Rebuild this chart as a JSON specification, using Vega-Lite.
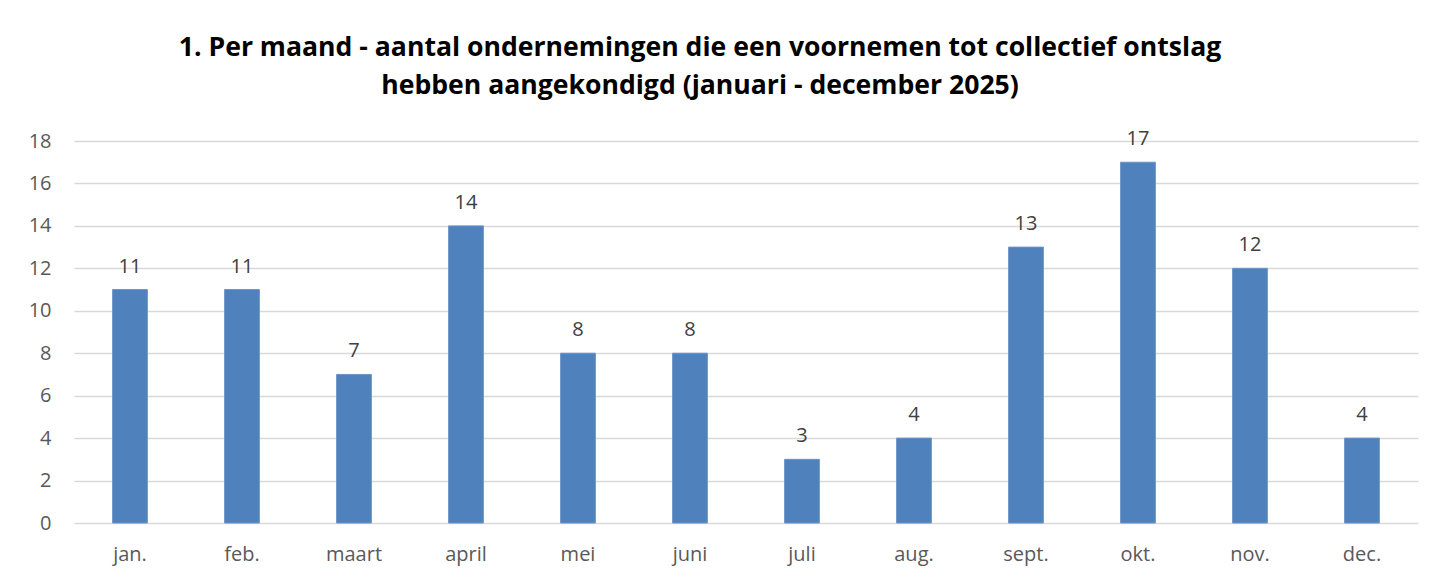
{
  "$schema": "https://vega.github.io/schema/vega-lite/v6.json",
  "width": 1344,
  "height": 382,
  "autosize": {"type": "none"},
  "padding": {"left": 74, "top": 141, "right": 11, "bottom": 56},
  "background": "white",
  "title": {
    "text": ["1. Per maand - aantal ondernemingen die een voornemen tot collectief ontslag", "hebben aangekondigd (januari - december 2025)"],
    "font": "Open Sans",
    "fontSize": 26.6,
    "fontWeight": "bold",
    "color": "#000000",
    "anchor": "middle",
    "dx": -46,
    "offset": 30,
    "lineHeight": 38
  },
  "data": {
    "values": [
      {"maand": "jan.", "aantal": 11},
      {"maand": "feb.", "aantal": 11},
      {"maand": "maart", "aantal": 7},
      {"maand": "april", "aantal": 14},
      {"maand": "mei", "aantal": 8},
      {"maand": "juni", "aantal": 8},
      {"maand": "juli", "aantal": 3},
      {"maand": "aug.", "aantal": 4},
      {"maand": "sept.", "aantal": 13},
      {"maand": "okt.", "aantal": 17},
      {"maand": "nov.", "aantal": 12},
      {"maand": "dec.", "aantal": 4}
    ]
  },
  "encoding": {
    "x": {
      "field": "maand",
      "type": "nominal",
      "sort": null,
      "title": null,
      "scale": {"paddingInner": 0.69, "paddingOuter": 0.345},
      "axis": {
        "labelAngle": 0,
        "labelFont": "Open Sans",
        "labelFontSize": 20,
        "labelColor": "#595959",
        "labelPadding": 21,
        "ticks": false,
        "domain": false,
        "grid": false
      }
    },
    "y": {
      "field": "aantal",
      "type": "quantitative",
      "title": null,
      "scale": {"domain": [0, 18], "nice": false},
      "axis": {
        "values": [0, 2, 4, 6, 8, 10, 12, 14, 16, 18],
        "labelFont": "Open Sans",
        "labelFontSize": 20,
        "labelColor": "#595959",
        "labelPadding": 23,
        "ticks": false,
        "domain": false,
        "gridColor": "#d9d9d9",
        "gridWidth": 1.5
      }
    }
  },
  "layer": [
    {
      "mark": {"type": "bar", "color": "#4F81BD", "stroke": "#6a93c8", "strokeWidth": 1}
    },
    {
      "mark": {"type": "text", "baseline": "bottom", "dy": -13, "font": "Open Sans", "fontSize": 20, "color": "#404040"},
      "encoding": {"text": {"field": "aantal", "type": "quantitative"}}
    }
  ],
  "config": {"view": {"stroke": null}}
}
